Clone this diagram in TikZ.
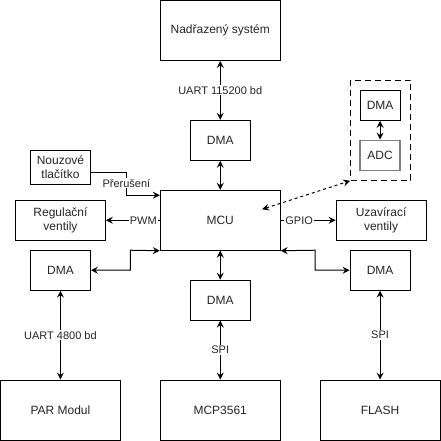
\documentclass[tikz,border=0pt]{standalone}
\usepackage{fontspec}
\setmainfont{Liberation Sans}
\usetikzlibrary{arrows.meta}
\begin{document}
\begin{tikzpicture}[x=1pt,y=-1pt,
  box/.style={draw=black,line width=1pt,fill=white,inner sep=0pt,align=center,text=black!85,font=\fontsize{12}{14}\selectfont},
  lbl/.style={fill=white,inner sep=1pt,text=black!85,font=\fontsize{11}{13}\selectfont},
  conn/.style={line width=1pt,{Stealth[length=7pt,width=7pt,inset=2.5pt]}-{Stealth[length=7pt,width=7pt,inset=2.5pt]}},
  one/.style={line width=1pt,-{Stealth[length=7pt,width=7pt,inset=2.5pt]}}
]
\useasboundingbox (-0.5,-0.5) rectangle (441,441);
% boxes
\node[box,minimum width=120,minimum height=60] (nad) at (220,30) {Nadřazený systém};
\node[box,minimum width=60,minimum height=40] (dmaT) at (220,140) {DMA};
\node[box,minimum width=120,minimum height=60] (mcu) at (220,220) {MCU};
\node[box,minimum width=60,minimum height=40] (dmaB) at (220,300) {DMA};
\node[box,minimum width=120,minimum height=60] (par) at (60,410) {PAR Modul};
\node[box,minimum width=120,minimum height=60] (mcp) at (220,410) {MCP3561};
\node[box,minimum width=120,minimum height=60] (flash) at (380,410) {FLASH};
\node[box,minimum width=60,minimum height=40] (dmaL) at (60,270) {DMA};
\node[box,minimum width=60,minimum height=40] (dmaR) at (380,270) {DMA};
\node[box,minimum width=60,minimum height=34] (nouz) at (60,167) {Nouzové\\tlačítko};
\node[box,minimum width=90,minimum height=40] (reg) at (60,220) {Regulační\\ventily};
\node[box,minimum width=90,minimum height=40] (uzav) at (381,220) {Uzavírací\\ventily};
\node[draw=black,line width=1pt,dash pattern=on 6pt off 4pt,minimum width=60,minimum height=100,inner sep=0pt] (grp) at (380.5,130) {};
\node[box,minimum width=40,minimum height=30] (dmaI) at (380,105) {DMA};
\node[box,draw=black!50,line width=1.6pt,minimum width=40,minimum height=30] (adc) at (380,155) {ADC};
% coordinates
\coordinate (nzA) at (126,172);
\coordinate (nzB) at (126,195);
\coordinate (lA) at (130,250);
\coordinate (lB) at (130,270);
\coordinate (rA) at (315,250);
\coordinate (rB) at (315,270);
\coordinate (dsh) at (262,209);
% connectors
\draw[conn] (nad.south) -- node[lbl]{UART 115200 bd} (dmaT.north);
\draw[conn] (dmaT.south) -- (mcu.north);
\draw[conn] (mcu.south) -- (dmaB.north);
\draw[conn] (dmaB.south) -- node[lbl]{SPI} (mcp.north);
\draw[conn] (dmaL.south) -- node[lbl]{UART 4800 bd} (par.north);
\draw[conn] (dmaR.south) -- node[lbl]{SPI} (flash.north);
\draw[conn] (dmaI.south) -- (adc.north);
\draw[one] (nouz.east |- nzA) -- (nzA) -- (nzB) -- (mcu.west |- nzB);
\node[lbl] at (126,183) {Přerušení};
\draw[one] (mcu.west) -- (reg.east);
\node[lbl] at (143,220) {PWM};
\draw[one] (mcu.east) -- (uzav.west);
\node[lbl] at (299,220) {GPIO};
\draw[conn] (mcu.south west) -- (lA) -- (lB) -- (dmaL.east);
\draw[conn] (mcu.south east) -- (rA) -- (rB) -- (dmaR.west);
\draw[conn,dash pattern=on 3pt off 3pt] (dsh) -- (grp.south west);
\end{tikzpicture}
\end{document}
